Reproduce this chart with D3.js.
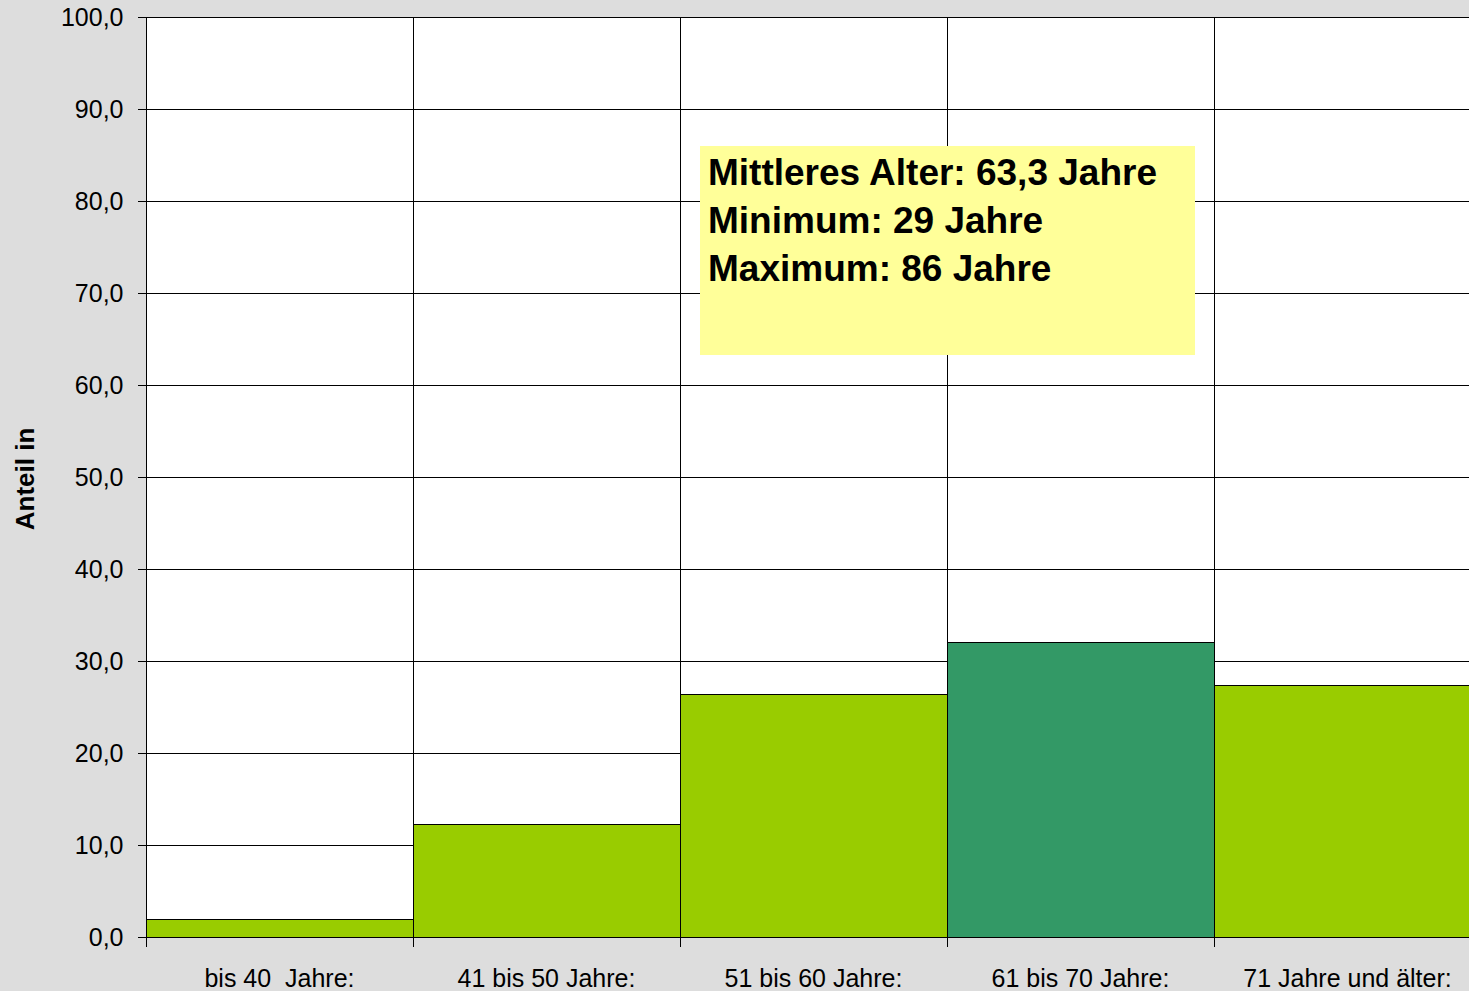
<!DOCTYPE html>
<meta charset="utf-8">
<head>
<style>
body { margin: 0; background: #dddddd; }
svg { display: block; }
.axis text { font: 25px "Liberation Sans", Arial, sans-serif; fill: #000; }
.axis path, .axis line { stroke: #000; shape-rendering: crispEdges; }
.grid line { stroke: #000; shape-rendering: crispEdges; }
</style>
</head>
<body>
<script src="https://d3js.org/d3.v7.min.js"></script>
<script>

var categories = ["bis 40  Jahre:", "41 bis 50 Jahre:", "51 bis 60 Jahre:", "61 bis 70 Jahre:", "71 Jahre und älter:"];
var shares = [2.0, 12.3, 26.4, 32.1, 27.4];
var highlight = [false, false, false, true, false];
var yTicks = [0, 10, 20, 30, 40, 50, 60, 70, 80, 90, 100];
var noteLines = ["Mittleres Alter: 63,3 Jahre", "Minimum: 29 Jahre", "Maximum: 86 Jahre"];

var margin = {top: 17, left: 146},
    width = 1335,
    height = 920;

var svg = d3.select("body").append("svg")
    .attr("width", 1469)
    .attr("height", 991)
    .style("font-family", "'Liberation Sans', Arial, sans-serif");

var g = svg.append("g")
    .attr("transform", "translate(" + margin.left + "," + margin.top + ")");

var x = d3.scaleBand().domain(categories).range([0, width]).padding(0);
var y = d3.scaleLinear().domain([0, 100]).range([height, 0]);

g.append("rect")
    .attr("width", width)
    .attr("height", height)
    .attr("fill", "#fff");

// horizontal grid
g.append("g").attr("class", "grid")
  .selectAll("line")
  .data(yTicks.slice(1))
  .enter().append("line")
    .attr("x1", 0).attr("x2", width)
    .attr("y1", function(d) { return Math.round(y(d)) + 0.5; })
    .attr("y2", function(d) { return Math.round(y(d)) + 0.5; })
    .attr("stroke", function(d) { return d === 100 ? "#888" : "#000"; });

// vertical grid at category boundaries
g.append("g").attr("class", "grid")
  .selectAll("line")
  .data(categories.slice(1))
  .enter().append("line")
    .attr("x1", function(d) { return Math.round(x(d)) + 0.5; })
    .attr("x2", function(d) { return Math.round(x(d)) + 0.5; })
    .attr("y1", 0).attr("y2", height);

g.append("g")
  .selectAll("rect")
  .data(categories)
  .enter().append("rect")
    .attr("x", function(d) { return Math.round(x(d)) + 0.5; })
    .attr("y", function(d, i) { return Math.round(y(shares[i])) + 0.5; })
    .attr("width", x.bandwidth())
    .attr("height", function(d, i) { return Math.round(height - y(shares[i])); })
    .attr("fill", function(d, i) { return highlight[i] ? "#339966" : "#99cc00"; })
    .attr("stroke", "#000")
    .attr("stroke-width", 1);

var yAxis = d3.axisLeft(y)
    .tickValues(yTicks)
    .tickSize(9)
    .tickPadding(14)
    .tickFormat(function(d) { return d3.format(".1f")(d).replace(".", ","); });

g.append("g")
    .attr("class", "axis")
    .attr("transform", "translate(0.5,0)")
    .call(yAxis)
    .call(function(s) { s.select(".domain").attr("d", "M0,0V" + height); });

// x axis line and ticks at boundaries
var xa = g.append("g").attr("class", "axis")
    .attr("transform", "translate(0," + (height + 0.5) + ")");
xa.append("line").attr("x1", 0).attr("x2", width).attr("stroke", "#000");
xa.selectAll(".tk")
  .data(categories.concat(["end"]))
  .enter().append("line")
    .attr("class", "tk")
    .attr("x1", function(d, i) { return Math.round(i < categories.length ? x(d) : width) + 0.5; })
    .attr("x2", function(d, i) { return Math.round(i < categories.length ? x(d) : width) + 0.5; })
    .attr("y1", 0).attr("y2", 9);
xa.selectAll("text")
  .data(categories)
  .enter().append("text")
    .attr("x", function(d) { return x(d) + x.bandwidth() / 2; })
    .attr("y", 49)
    .attr("text-anchor", "middle")
    .style("white-space", "pre")
    .attr("xml:space", "preserve")
    .text(function(d) { return d; });

// y axis title
svg.append("text")
    .attr("transform", "translate(34,479) rotate(-90)")
    .attr("text-anchor", "middle")
    .style("font-size", "26px")
    .style("font-weight", "bold")
    .text("Anteil in");

// note box
var note = svg.append("g");
note.append("rect")
    .attr("x", 700).attr("y", 146)
    .attr("width", 495).attr("height", 209)
    .attr("fill", "#ffff99");
note.selectAll("text")
  .data(noteLines)
  .enter().append("text")
    .attr("x", 708)
    .attr("y", function(d, i) { return 185 + i * 48; })
    .style("font-size", "37px")
    .style("font-weight", "bold")
    .text(function(d) { return d; });

</script>
</body>
